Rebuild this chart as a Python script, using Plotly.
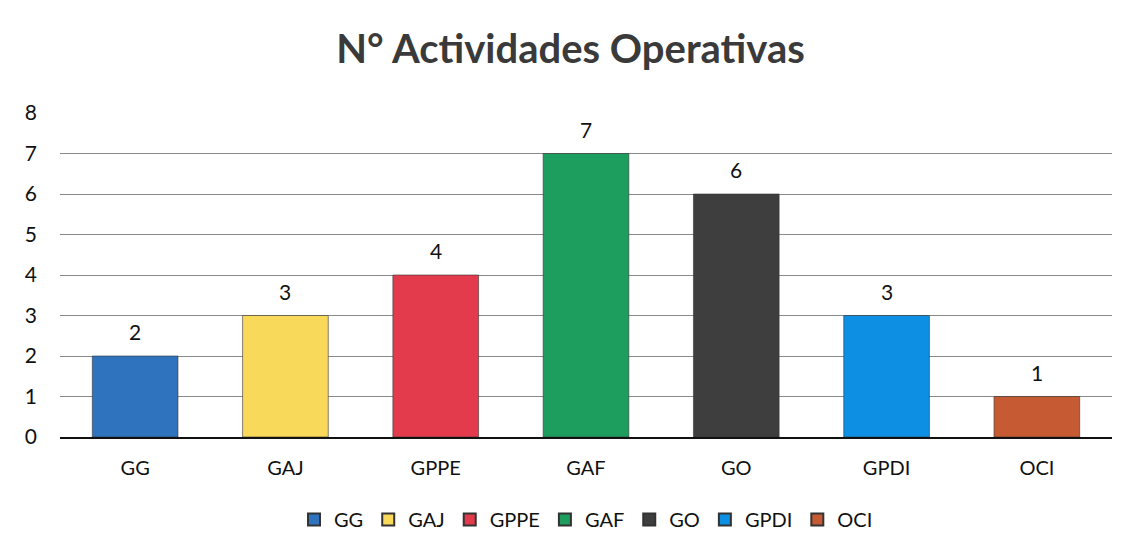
import plotly.graph_objects as go

categories = ["GG", "GAJ", "GPPE", "GAF", "GO", "GPDI", "OCI"]
values = [2, 3, 4, 7, 6, 3, 1]
colors = ["#2F73BE", "#F8D95A", "#E33B4C", "#1E9E5E", "#3E3E3E", "#0D8FE3", "#C65A32"]
y_ticks = [0, 1, 2, 3, 4, 5, 6, 7, 8]

FONT = "Lato, Open Sans, sans-serif"

fig = go.Figure()
for cat, val, col in zip(categories, values, colors):
    fig.add_trace(go.Bar(
        x=[cat], y=[val], name=cat,
        marker=dict(color=col, line=dict(color="#333333", width=0.6)),
        width=0.57,
    ))
    fig.add_annotation(x=cat, y=val, text=str(val), showarrow=False,
                       yanchor="bottom", yshift=10,
                       font=dict(size=21, color="#111111", family=FONT))

fig.update_layout(
    width=1125, height=548,
    barmode="overlay",
    paper_bgcolor="white", plot_bgcolor="white",
    margin=dict(l=52, r=21, t=105, b=119),
    title=dict(text="<b>N° Actividades Operativas</b>", x=0.5, xanchor="center",
               y=0.925, yanchor="middle",
               font=dict(size=40, color="#3a3a3a", family=FONT)),
    font=dict(family=FONT, color="#111111"),
    showlegend=True,
    legend=dict(orientation="h", x=0.5, xanchor="center", y=-0.255, yanchor="middle",
                font=dict(size=20, color="#111111"), traceorder="normal",
                itemsizing="constant"),
)
fig.update_yaxes(range=[0, 8], tickvals=y_ticks, showgrid=True, gridcolor="#8a8a8a", gridwidth=1,
                 zeroline=False, showline=False, tickfont=dict(size=21, color="#111111"),
                 ticks="", ticklabelstandoff=22)
fig.update_xaxes(showline=True, linecolor="#111111", linewidth=2, tickfont=dict(size=20, color="#111111"),
                 ticks="", ticklabelstandoff=12)

fig.write_html("out.html")
